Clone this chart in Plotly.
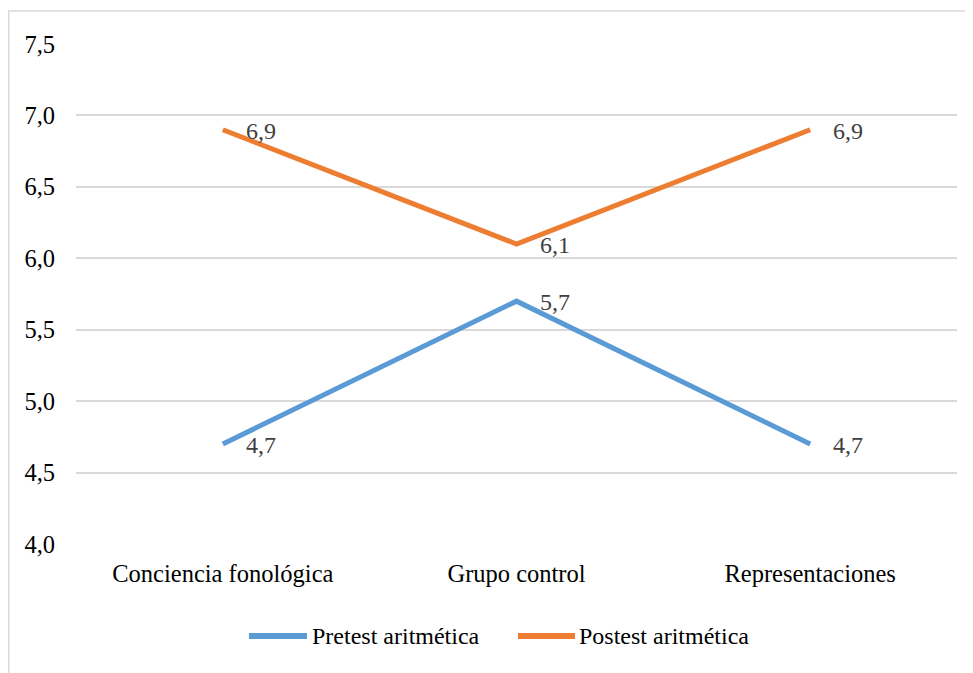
import plotly.graph_objects as go

categories = ["Conciencia fonológica", "Grupo control", "Representaciones"]
pretest = [4.7, 5.7, 4.7]
postest = [6.9, 6.1, 6.9]
series_names = ["Pretest aritmética", "Postest aritmética"]
y_ticks = [4.0, 4.5, 5.0, 5.5, 6.0, 6.5, 7.0, 7.5]

FONT = "Liberation Serif"
FS = 24.5
colors = ["#5B9BD5", "#ED7D31"]

fig = go.Figure()
for name, vals, col in zip(series_names, [pretest, postest], colors):
    fig.add_trace(go.Scatter(
        x=categories, y=vals, mode="lines", name=name,
        line=dict(color=col, width=5),
        hoverinfo="skip", showlegend=False,
    ))

annotations = []
for vals in [pretest, postest]:
    for c, v in zip(categories, vals):
        annotations.append(dict(
            x=c, y=v, xref="x", yref="y",
            text=f"{v:.1f}".replace(".", ","),
            showarrow=False, xanchor="left", yanchor="middle",
            xshift=21, yshift=-1,
            font=dict(family=FONT, size=24, color="#404040"),
        ))

# page body has an 8px margin; work in screen coords and convert
OFF = 8
W, H = 973, 673
ml, mt = 76 - OFF, 44 - OFF
pw, ph = 881, 500
mr = W - ml - pw
mb = H - mt - ph

def px(sx):
    return (sx - OFF - ml) / pw

def py(sy):
    return (mt + ph - (sy - OFF)) / ph

shapes = [dict(
    type="rect", xref="paper", yref="paper",
    x0=px(8.75), x1=px(990), y0=py(690), y1=py(11),
    line=dict(color="#D9D9D9", width=1.5), fillcolor="rgba(0,0,0,0)",
    layer="below",
)]

# custom legend (Excel-style long line keys)
legend_items = [(249, 307, 310), (518, 575, 577)]
LEG_Y = 636
for (x0, x1, tx), name, col in zip(legend_items, series_names, colors):
    shapes.append(dict(
        type="line", xref="paper", yref="paper",
        x0=px(x0), x1=px(x1), y0=py(LEG_Y), y1=py(LEG_Y),
        line=dict(color=col, width=6),
    ))
    annotations.append(dict(
        x=px(tx), y=py(LEG_Y), xref="paper", yref="paper",
        text=name, showarrow=False, xanchor="left", yanchor="middle",
        font=dict(family=FONT, size=24, color="#000000"),
    ))

fig.update_layout(
    width=W, height=H,
    margin=dict(l=ml, r=mr, t=mt, b=mb, autoexpand=False),
    paper_bgcolor="white", plot_bgcolor="white",
    separators=",.",
    font=dict(family=FONT, size=FS, color="#000000"),
    xaxis=dict(
        type="category", range=[-0.5, 2.5], showgrid=False, zeroline=False,
        showline=False, ticks="", ticklabelstandoff=12,
        tickfont=dict(family=FONT, size=FS, color="#000000"),
    ),
    yaxis=dict(
        range=[4.0, 7.5], tickvals=y_ticks, tickformat=".1f",
        showgrid=True, gridcolor="#D9D9D9", gridwidth=1.5,
        zeroline=False, showline=False, ticks="", ticklabelstandoff=20,
        tickfont=dict(family=FONT, size=FS, color="#000000"),
    ),
    showlegend=False,
    annotations=annotations,
    shapes=shapes,
)

fig.write_html("out.html")
